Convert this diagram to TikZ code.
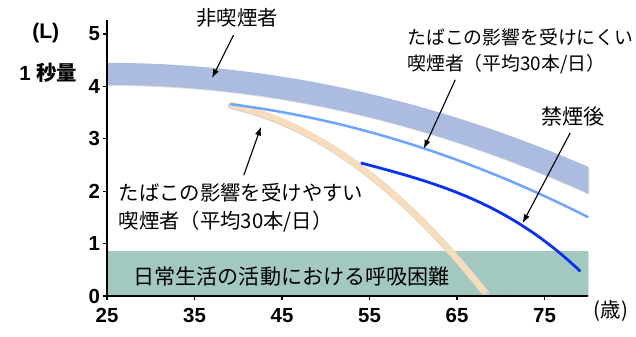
\documentclass[tikz,border=0pt]{standalone}
\usepackage{fontspec}
\setmainfont{Noto Sans CJK JP}
\newfontfamily\numfont{Liberation Sans}
\usepackage[x11names, svgnames]{xcolor}
\usetikzlibrary{arrows.meta, calc, shadows}

\definecolor{bandblue}{HTML}{ABBCE0}
\definecolor{dailygreen}{HTML}{A3C8C0}
\definecolor{lightline}{HTML}{6EA6FF}
\definecolor{darkline}{HTML}{0A32F0}
\definecolor{beige}{HTML}{F9DCBA}

\tikzset{
  jlabel/.style={font=\fontsize{14.5}{20}\selectfont, inner sep=0pt},
  ticklabel/.style={font=\numfont\bfseries\fontsize{14.5}{16}\selectfont, inner sep=1pt},
  pointer/.style={-{Latex[length=2.2mm, width=1.6mm]}, line width=0.8pt},
  softshadow/.style={drop shadow={opacity=0.25, shadow xshift=0.8pt, shadow yshift=-0.8pt}},
}

\begin{document}
\begin{tikzpicture}[x=0.21875cm, y=1.31cm]
	\useasboundingbox (12.771,-0.782) rectangle (85.457,5.649);

	% daily life zone
	\fill[dailygreen, softshadow] (25,0) rectangle (80,0.86);
	\node[jlabel, font=\fontsize{15}{20}\selectfont, anchor=west] (daily) at (28,0.38) {日常生活の活動における呼吸困難};

	% non-smoker band
	\fill[bandblue, softshadow] plot[domain=25:80, samples=40] (\x,{4.45-0.00065*(\x-25)^2})
		-- plot[domain=80:25, samples=40] (\x,{4.03-0.00068*(\x-25)^2}) -- cycle;

	% curves
	\draw[gray!35, line width=5pt, line cap=round, xshift=0.7pt, yshift=-0.7pt] plot[domain=39.1:68.2, samples=40] (\x,{3.65-0.0362*(\x-39.1)-0.002993*(\x-39.1)^2});
	\draw[beige, line width=4.3pt] plot[domain=39.1:68.2, samples=40] (\x,{3.65-0.0362*(\x-39.1)-0.002993*(\x-39.1)^2});
	\draw[lightline, line width=1.8pt] plot[domain=39.1:80, samples=40] (\x,{3.66-0.0209*(\x-39.1)-0.000774*(\x-39.1)^2});
	\draw[darkline, line width=2pt] plot[domain=54:79.1, samples=40] (\x,{2.54-0.044*(\x-54)-0.0000618*(\x-54)^3});

	% axes
	\draw[line width=1pt] (25,5.27) -- (25,0) -- (80,0);
	\foreach \v in {0,...,5} {
		\draw[line width=0.8pt] (25,\v) -- ++(-0.45,0);
		\node[ticklabel, anchor=east] (y\v) at (24.4,\v) {\v};
	}
	\foreach \a in {25,35,...,75} {
		\draw[line width=0.8pt] (\a,0) -- ++(0,-0.07);
		\node[ticklabel] (x\a) at (\a,-0.38) {\a};
	}
	\node[ticklabel, font=\numfont\bfseries\fontsize{15}{16}\selectfont] (unit) at (18,5.02) {(L)};
	\node[ticklabel] (qty) at (18.3,4.26) {1 \bfseries\rmfamily 秒量};
	\node[jlabel] (age) at (82.6,-0.29) {(歳)};

	% labels and pointers
	\coordinate (nonsmokerTip) at (37.0,4.16);
	\coordinate (easyTip) at (42.6,3.23);
	\coordinate (hardTip) at (61.2,2.81);
	\coordinate (quitTip) at (72.5,1.39);

	\node[jlabel] (nonsmoker) at (39.9,5.31) {非喫煙者};
	\node[jlabel, font=\fontsize{13.4}{19}\selectfont, anchor=west, align=left] (hard) at (59.3,4.67) {たばこの影響を受けにくい\\喫煙者（平均30本/日）};
	\node[jlabel, font=\fontsize{15}{20}\selectfont] (quit) at (78.3,3.42) {禁煙後};
	\node[jlabel, anchor=west, align=left] (easy) at (26.3,1.68) {たばこの影響を受けやすい\\喫煙者（平均30本/日）};

	\draw[pointer, shorten <=6pt] (nonsmoker.south) -- (nonsmokerTip);
	\draw[pointer] (hard.south west) ++(5.5,-0.1) -- (hardTip);
	\draw[pointer, shorten <=5pt] (quit.south) -- (quitTip);
	\draw[pointer, shorten <=6pt] (easy.north) -- (easyTip);

\end{tikzpicture}
\end{document}
